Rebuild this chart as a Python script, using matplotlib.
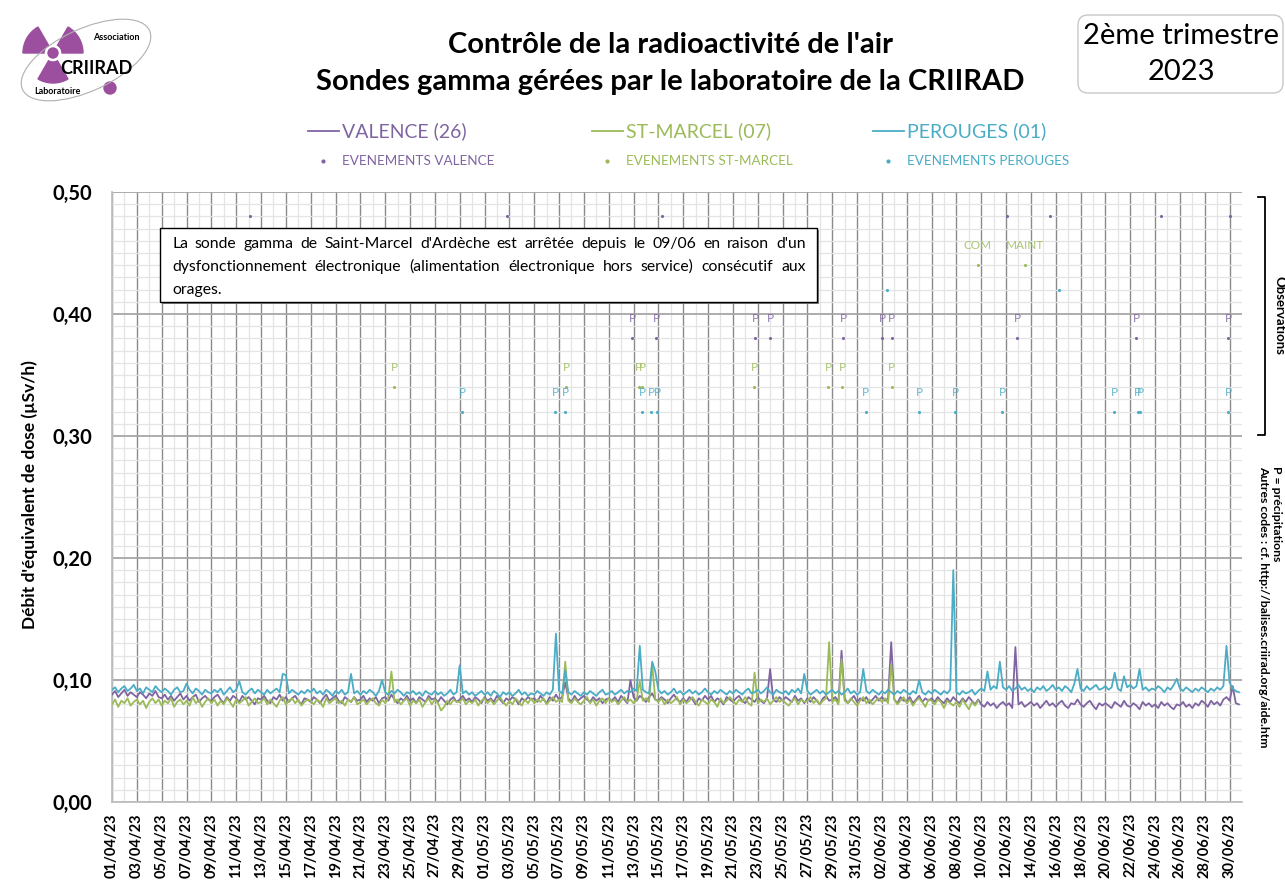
import numpy as np
import pandas as pd
import matplotlib
matplotlib.use("Agg")
import matplotlib.pyplot as plt
import matplotlib.dates as mdates
from matplotlib.patches import Wedge, Circle, Ellipse, FancyBboxPatch, Rectangle
from matplotlib.lines import Line2D
from matplotlib.ticker import MultipleLocator, FuncFormatter

plt.rcParams['font.family'] = ['Lato', 'DejaVu Sans']


# ==========================
# Data (nSv/h, one value every 6 h from 01/04/23 00:00)
# ==========================

valence = [
    88, 91, 86, 89, 92, 87, 90, 88,  86, 90, 88, 85, 89, 87, 91, 86,
    85, 88, 84, 87, 83, 86, 89, 84,  87, 83, 86, 88, 82, 85, 87, 84,
    83, 86, 88, 84, 81, 86, 83, 87,  85, 82, 87, 84, 86, 83, 80, 85,
    84, 87, 83, 81, 86, 84, 88, 83,  86, 82, 85, 87, 83, 80, 85, 84,
    82, 86, 84, 81, 85, 88, 83, 85,  87, 83, 81, 86, 84, 82, 86, 83,
    84, 87, 82, 85, 83, 86, 81, 85,  86, 83, 88, 84, 81, 85, 83, 87,
    83, 85, 81, 86, 84, 82, 87, 84,  85, 82, 86, 83, 80, 84, 86, 82,
    84, 87, 83, 85, 82, 86, 84, 81,  86, 83, 85, 82, 87, 84, 81, 85,
    83, 86, 84, 80, 85, 83, 86, 84,  85, 82, 87, 84, 81, 86, 83, 88,
    84, 86, 98, 85, 82, 87, 83, 85,  87, 84, 82, 86, 83, 85, 81, 84,
    85, 83, 86, 82, 87, 84, 81, 100, 86, 83, 87, 85, 82, 86, 89, 84,
    83, 86, 84, 81, 85, 88, 84, 82,  85, 82, 86, 84, 80, 85, 83, 87,
    84, 87, 82, 85, 83, 80, 86, 84,  82, 85, 87, 83, 81, 86, 84, 82,
    86, 83, 81, 85, 109, 84, 82, 86, 83, 86, 84, 82, 87, 83, 85, 81,
    85, 82, 86, 83, 80, 85, 87, 83,  84, 86, 82, 124, 85, 81, 84, 87,
    82, 85, 83, 86, 81, 84, 87, 83,  86, 83, 85, 131, 84, 81, 86, 83,
    83, 86, 81, 84, 87, 82, 85, 83,  85, 82, 86, 83, 81, 85, 82, 86,
    83, 81, 85, 82, 86, 83, 80, 84,  80, 78, 82, 79, 81, 77, 80, 82,
    79, 81, 77, 127, 80, 82, 78, 80, 82, 79, 81, 77, 80, 83, 79, 81,
    78, 81, 83, 79, 77, 81, 80, 84,  80, 78, 81, 83, 79, 76, 81, 79,
    81, 79, 77, 82, 80, 78, 83, 79,  78, 81, 79, 76, 82, 79, 81, 78,
    80, 77, 82, 79, 81, 78, 76, 80,  79, 82, 78, 80, 77, 81, 79, 83,
    81, 78, 83, 80, 82, 79, 84, 86,  83, 95, 81, 80,
]

perouges = [
    92, 94, 90, 93, 95, 91, 93, 96,  91, 93, 89, 94, 92, 90, 95, 92,
    90, 93, 91, 88, 92, 94, 90, 91,  97, 92, 89, 93, 91, 88, 92, 90,
    89, 92, 90, 93, 88, 91, 94, 90,  92, 99, 90, 88, 91, 93, 89, 92,
    90, 88, 92, 89, 91, 93, 90, 105, 104, 89, 92, 90, 88, 91, 89, 92,
    90, 93, 89, 91, 88, 92, 90, 87,  91, 89, 92, 88, 90, 105, 89, 91,
    88, 91, 89, 92, 90, 87, 91, 100, 90, 88, 91, 89, 92, 90, 87, 90,
    89, 91, 88, 90, 87, 91, 89, 88,  91, 88, 90, 87, 89, 92, 88, 90,
    112, 89, 91, 88, 90, 87, 89, 91, 88, 90, 87, 91, 89, 86, 90, 88,
    90, 87, 89, 92, 88, 90, 87, 89,  88, 91, 89, 87, 90, 88, 92, 138,
    91, 89, 108, 90, 88, 91, 89, 87, 90, 88, 91, 89, 87, 90, 92, 88,
    89, 91, 88, 90, 92, 89, 91, 90,  93, 91, 128, 92, 90, 89, 115, 107,
    92, 89, 91, 88, 90, 93, 89, 91,  88, 90, 92, 89, 91, 88, 90, 93,
    90, 88, 91, 89, 92, 90, 88, 91,  89, 92, 90, 88, 91, 93, 89, 90,
    92, 89, 91, 94, 90, 88, 92, 90,  89, 91, 88, 92, 90, 93, 89, 105,
    91, 88, 90, 92, 89, 91, 88, 90,  92, 89, 91, 88, 90, 93, 89, 91,
    88, 90, 109, 91, 89, 92, 90, 88, 91, 89, 92, 90, 88, 91, 89, 92,
    90, 88, 91, 89, 100, 90, 88, 91, 89, 92, 90, 88, 91, 89, 92, 190,
    90, 88, 91, 89, 90, 92, 88, 91,  93, 91, 107, 92, 95, 93, 115, 94,
    92, 95, 91, 93, 96, 92, 94, 91,  93, 90, 94, 92, 95, 91, 93, 96,
    92, 94, 91, 95, 93, 90, 97, 109, 93, 91, 95, 92, 94, 96, 92, 93,
    95, 92, 94, 106, 93, 91, 103, 94, 96, 93, 95, 109, 92, 94, 91, 93,
    92, 95, 93, 90, 94, 92, 96, 101, 93, 91, 94, 92, 90, 93, 91, 94,
    92, 90, 93, 91, 94, 92, 95, 128, 98, 93, 91, 90,
]

# St-Marcel stopped on 09/06
st_marcel = [
    80, 84, 78, 83, 81, 85, 79, 82,  84, 80, 83, 77, 82, 85, 81, 84,
    79, 83, 81, 85, 78, 82, 84, 80,  83, 79, 86, 81, 84, 78, 82, 85,
    81, 84, 79, 83, 80, 85, 82, 78,  84, 81, 83, 86, 79, 82, 85, 81,
    82, 85, 80, 84, 81, 78, 83, 86,  80, 83, 85, 81, 84, 79, 82, 84,
    83, 80, 84, 82, 78, 85, 81, 83,  85, 81, 83, 79, 84, 82, 86, 80,
    82, 84, 80, 83, 85, 81, 79, 84,  81, 85, 107, 82, 84, 80, 83, 85,
    79, 83, 81, 84, 78, 82, 85, 80,  84, 81, 75, 78, 83, 80, 84, 82,
    82, 85, 80, 83, 81, 84, 79, 83,  85, 81, 84, 80, 83, 86, 82, 79,
    83, 80, 85, 82, 79, 84, 81, 85,  81, 84, 82, 85, 80, 83, 86, 82,
    84, 82, 115, 83, 81, 85, 82, 80, 83, 86, 81, 84, 79, 83, 85, 81,
    85, 82, 84, 80, 83, 86, 82, 84,  81, 84, 99, 83, 85, 82, 113, 84,
    82, 85, 80, 84, 81, 83, 86, 80,  84, 81, 83, 86, 82, 79, 84, 82,
    80, 84, 82, 78, 85, 81, 83, 86,  83, 80, 84, 82, 86, 81, 79, 106,
    81, 84, 82, 85, 80, 83, 86, 82,  84, 81, 79, 83, 85, 80, 84, 82,
    83, 86, 81, 84, 80, 83, 85, 131, 82, 84, 80, 117, 83, 81, 85, 82,
    79, 83, 86, 81, 84, 80, 83, 85,  82, 85, 81, 113, 84, 80, 83, 86,
    81, 84, 79, 83, 85, 82, 78, 84,  83, 80, 84, 82, 77, 83, 81, 79,
    82, 78, 84, 80, 76, 82, 79, 83,
]

# events: day offset from 01/04/23, level (µSv/h), code
val_evt_days = [11.1, 31.8, 44.3, 72.1, 75.5, 84.5, 90.0,
                41.9, 43.8, 51.8, 53.0, 58.9, 62.0, 62.8, 72.9, 82.5, 89.9]
val_evt_level = [0.48] * 7 + [0.38] * 10
val_evt_code = [""] * 7 + ["P"] * 10

stm_evt_days = [22.7, 36.6, 42.4, 42.7, 51.7, 57.7, 58.8, 62.8, 69.7, 73.5]
stm_evt_level = [0.34] * 8 + [0.44, 0.44]
stm_evt_code = ["P"] * 8 + ["COM", "MAINT"]

per_evt_days = [28.2, 35.7, 36.5, 42.7, 43.4, 43.9, 60.7, 65.0, 67.9, 71.7,
                80.7, 82.6, 82.8, 89.9, 62.4, 76.3]
per_evt_level = [0.32] * 14 + [0.42, 0.42]
per_evt_code = ["P"] * 14 + ["", ""]

c_val = "#8064a2"
c_stm = "#9bbb59"
c_per = "#4bacc6"


# ==========================
# Figure
# ==========================

fig = plt.figure(figsize=(12.85, 8.85), dpi=100)
ax = fig.add_axes([112 / 1285, 83 / 885, 1130 / 1285, 610 / 885])

start = pd.Timestamp("2023-04-01")


def times(n):
    return pd.date_range(start, periods=n, freq="6h")


ax.plot(times(len(valence)), np.array(valence) / 1000, color=c_val, lw=1.3, zorder=3)
ax.plot(times(len(st_marcel)), np.array(st_marcel) / 1000, color=c_stm, lw=1.3, zorder=4)
ax.plot(times(len(perouges)), np.array(perouges) / 1000, color=c_per, lw=1.3, zorder=5)

for days, level, code, col in [
    (val_evt_days, val_evt_level, val_evt_code, c_val),
    (stm_evt_days, stm_evt_level, stm_evt_code, c_stm),
    (per_evt_days, per_evt_level, per_evt_code, c_per),
]:
    t = start + pd.to_timedelta(days, unit="D")
    ax.scatter(t, level, s=5, color=col, zorder=6, linewidths=0)
    for ti, yi, ci in zip(t, level, code):
        if ci:
            ax.text(ti, yi + 0.016, ci, color=col, alpha=0.85,
                    fontsize=8.5, ha="center", va="center", zorder=6)

ax.set_xlim(start, pd.Timestamp("2023-07-01"))
ax.set_ylim(0, 0.5)

ax.set_xticks(pd.date_range("2023-04-01", "2023-06-30", freq="2D"))
ax.set_xticks(pd.date_range("2023-04-01", "2023-06-30", freq="D"), minor=True)
ax.xaxis.set_major_formatter(mdates.DateFormatter("%d/%m/%y"))
ax.yaxis.set_major_locator(MultipleLocator(0.1))
ax.yaxis.set_minor_locator(MultipleLocator(0.01))
ax.yaxis.set_major_formatter(FuncFormatter(lambda v, _: f"{v:.2f}".replace(".", ",")))

for lab in ax.get_xticklabels():
    lab.set_rotation(90)
    lab.set_fontweight("bold")
    lab.set_fontsize(10.5)
for lab in ax.get_yticklabels():
    lab.set_fontweight("bold")
    lab.set_fontsize(14.5)

ax.tick_params(which="both", length=0)
ax.tick_params(axis="x", pad=8)
ax.tick_params(axis="y", pad=14)

ax.set_axisbelow(True)
ax.grid(which="minor", axis="both", color="#e4e4e4", lw=0.9)
ax.grid(which="major", axis="x", color="#8a8a8a", lw=1.0)
ax.grid(which="major", axis="y", color="#a6a6a6", lw=1.3)
for s in ["top", "right"]:
    ax.spines[s].set_visible(False)
for s in ["left", "bottom"]:
    ax.spines[s].set_color("#bfbfbf")
    ax.spines[s].set_linewidth(1.3)


# ==========================
# Overlay (pixel coordinates)
# ==========================

ov = fig.add_axes([0, 0, 1, 1], zorder=10)
ov.set_xlim(0, 1285)
ov.set_ylim(885, 0)
ov.axis("off")

# title
ov.text(670, 45, "Contrôle de la radioactivité de l'air", fontsize=21,
        fontweight="bold", ha="center", va="center")
ov.text(670, 82, "Sondes gamma gérées par le laboratoire de la CRIIRAD",
        fontsize=21, fontweight="bold", ha="center", va="center")

# quarter box
ov.add_patch(FancyBboxPatch((1078, 15), 205, 78,
                            boxstyle="round,pad=0,rounding_size=10",
                            fc="white", ec="#c8c8c8", lw=1))
ov.text(1181, 36, "2ème trimestre", fontsize=21, ha="center", va="center")
ov.text(1181, 72, "2023", fontsize=21, ha="center", va="center")

# legend
for x0, col, name, ev in [
    (308, c_val, "VALENCE (26)", "EVENEMENTS VALENCE"),
    (592, c_stm, "ST-MARCEL (07)", "EVENEMENTS ST-MARCEL"),
    (873, c_per, "PEROUGES (01)", "EVENEMENTS PEROUGES"),
]:
    ov.add_line(Line2D([x0, x0 + 31], [131, 131], color=col, lw=1.3))
    ov.text(x0 + 34, 131, name, color=col, fontsize=14, va="center")
    ov.plot([x0 + 15], [161], "o", color=col, ms=2)
    ov.text(x0 + 34, 161, ev, color=col, fontsize=9.7, va="center")

# y label
ov.text(30, 495, "Débit d'équivalent de dose (µSv/h)", rotation=90,
        fontsize=12.5, fontweight="bold", ha="center", va="center")

# info box, justified text
ov.add_patch(Rectangle((162, 230), 657, 74, fc="#7f7f7f", ec="none"))
ov.add_patch(Rectangle((160, 228), 657, 74, fc="white", ec="black", lw=1))
box_lines = [
    "La sonde gamma de Saint-Marcel d'Ardèche est arrêtée depuis le 09/06 en raison d'un",
    "dysfonctionnement électronique (alimentation électronique hors service) consécutif aux",
    "orages.",
]
renderer = fig.canvas.get_renderer()
x_left, x_right = 172, 806
for i, line in enumerate(box_lines):
    y = 244 + 23 * i
    words = line.split()
    txts = [ov.text(0, y, w, fontsize=11.3, va="center") for w in words]
    widths = [t.get_window_extent(renderer).width for t in txts]
    space = txts[0].get_window_extent(renderer).height * 0.25
    if i < len(box_lines) - 1 and len(words) > 1:
        space = (x_right - x_left - sum(widths)) / (len(words) - 1)
    x = x_left
    for t, w in zip(txts, widths):
        t.set_x(x)
        x += w + space

# right side notes
ov.plot([1258, 1265, 1265, 1258], [197, 197, 435, 435], color="black", lw=1.3)
ov.text(1279, 315, "Observations", rotation=-90, fontsize=9.5,
        fontweight="bold", ha="center", va="center")
ov.text(1270, 466, "P = précipitations\nAutres codes : cf. http://balises.criirad.org/aide.htm",
        rotation=-90, fontsize=8.8, fontweight="bold", ha="center", va="top",
        multialignment="left")

# logo
purple = "#9b4f9e"
cx, cy = 53, 53
for a in [300, 180, 60]:
    ov.add_patch(Wedge((cx, cy), 30, a, a + 60, width=21, color=purple))
ov.add_patch(Circle((cx, cy), 5, color=purple))
ov.add_patch(Circle((110, 88), 6, color=purple))
ov.add_patch(Ellipse((86, 60), 140, 62, angle=-25, fill=False,
                     ec="#b0b0b0", lw=0.8))
ov.text(96, 69, "CRIIRAD", fontsize=13, fontweight="bold", ha="center", va="center")
ov.text(116, 38, "Association", fontsize=6.5, fontweight="bold", ha="center", va="center")
ov.text(57, 92, "Laboratoire", fontsize=6.5, fontweight="bold", ha="center", va="center")

fig.savefig("out.png", dpi=100)
